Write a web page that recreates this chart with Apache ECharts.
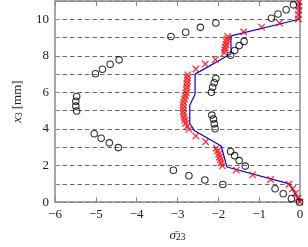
<!DOCTYPE html>
<html><head><meta charset="utf-8">
<script src="https://cdn.jsdelivr.net/npm/echarts@6/dist/echarts.min.js"></script>
<style>html,body{margin:0;padding:0;background:#fff}#c{width:308px;height:247px}</style>
</head><body><div id="c"></div>
<script>
// Experimental points (open circles): [sigma23, x3]
const circleX = [-5.04,-4.87,-4.67,-4.45, -5.47,-5.49,-5.49,-5.47, -5.01,-4.84,-4.65,-4.43,
  -3.16,-2.80,-2.44,-2.06, -0.70,-0.54,-0.34,-0.16, -1.37,-1.49,-1.60,-1.70,
  -2.06,-2.10,-2.14,-2.17, -2.16,-2.12,-2.10,-2.08, -1.70,-1.60,-1.49,-1.34,
  -3.10,-2.72,-2.33,-1.89, -0.61,-0.41,-0.21,-0.01];
const circleY = [3.74,3.49,3.24,2.98, 5.78,5.52,5.25,4.98, 7.02,7.27,7.54,7.78,
  9.06,9.29,9.56,9.80, 10.06,10.29,10.52,10.79, 8.79,8.56,8.29,8.03,
  6.76,6.53,6.28,6.01, 4.76,4.54,4.28,4.01, 2.77,2.54,2.27,1.97,
  1.74,1.44,1.21,0.96, 0.73,0.46,0.20,0.0];
// Red crosses
const crossX = [0,-0.05,-0.11,-0.18,-0.27,-0.72,-1.16,-1.56,
  -1.90,-1.93,-1.95,-1.97,-1.99,-2.02,-2.05,-2.31,-2.55,
  -2.72,-2.76,-2.80,-2.82,-2.84,-2.85,-2.86,-2.86,-2.86,-2.85,-2.83,-2.81,-2.79,-2.78,-2.77,-2.77,-2.76,-2.76,-2.75,
  -2.55,-2.32,-2.07,-1.85,-1.84,-1.83,-1.81,-1.80,-1.78,-1.77,-1.38,-0.94,-0.50,
  -0.04,-0.04,-0.03,-0.03,-0.02];
const crossY = [0,0.22,0.48,0.73,0.98,1.24,1.49,1.75,
  1.98,2.15,2.31,2.47,2.63,2.79,2.95,3.30,3.62,
  3.98,4.14,4.31,4.48,4.64,4.81,4.97,5.14,5.31,5.47,5.64,5.80,5.97,6.14,6.30,6.47,6.63,6.80,6.96,
  7.28,7.55,7.80,8.17,8.32,8.47,8.62,8.77,8.92,9.06,9.30,9.57,9.80,
  10.02,10.25,10.48,10.71,10.94];
// Model (blue line)
const lineX = [0,-0.26,-1.79,-1.93,-2.58,-2.70,-2.70,-2.57,-2.57,-1.69,-1.69,-0.02,-0.02];
const lineY = [0,1.0,1.92,3.07,3.9,4.3,5.3,5.9,7.0,8.12,9.09,10.0,11];
const xTicks = [-6,-5,-4,-3,-2,-1,0];
const yTicks = [0,2,4,6,8,10];

const zip = (a,b) => a.map((v,i)=>[v,b[i]]);
const font = 'Liberation Serif';
const axisCol = '#8a8a8a';
const chart = echarts.init(document.getElementById('c'), null, {renderer:'canvas'});
const xBase = {
  type:'value', min:-6, max:0, interval:1,
  axisLine:{show:true, onZero:false, lineStyle:{color:axisCol, width:1.5}},
  axisTick:{show:true, inside:true, length:5, lineStyle:{color:axisCol, width:1}},
  splitLine:{show:false}
};
const yBase = {
  type:'value', min:0, max:11, interval:1,
  axisLine:{show:true, onZero:false, lineStyle:{color:axisCol, width:1.5}},
  axisTick:{show:true, inside:true, length:5, lineStyle:{color:axisCol, width:1}},
};
chart.setOption({
  animation:false,
  backgroundColor:'#fff',
  grid:{left:48, right:8, top:1, bottom:40},
  xAxis:[
    Object.assign({}, xBase, {position:'bottom',
      axisLabel:{fontFamily:font, fontSize:13, color:'#222', margin:6,
        formatter:v => xTicks.includes(v) ? (v<0 ? '\u2212'+Math.abs(v) : String(v)) : ''},
      name:'{a|σ̄}{b|23}', nameLocation:'middle', nameGap:23,
      nameTextStyle:{fontFamily:font, color:'#222',
        rich:{a:{fontFamily:font, fontSize:13, fontStyle:'italic', color:'#222', lineHeight:15, verticalAlign:'bottom'},
              b:{fontFamily:font, fontSize:9.5, color:'#222', lineHeight:15, verticalAlign:'bottom', padding:[6,0,0,0]}}}
    }),
    Object.assign({}, xBase, {position:'top', axisLabel:{show:false}})
  ],
  yAxis:[
    Object.assign({}, yBase, {position:'left',
      axisLabel:{fontFamily:font, fontSize:13, color:'#222', margin:6,
        formatter:v => yTicks.includes(v) ? String(v) : ''},
      splitLine:{show:true, lineStyle:{color:'#444', width:0.8, type:[4.5,3]}},
      name:'{a|x}{b|3} {c|[mm]}', nameLocation:'middle', nameGap:31, nameRotate:90,
      nameTextStyle:{fontFamily:font, color:'#222',
        rich:{a:{fontFamily:font, fontSize:13, fontStyle:'italic', color:'#222', lineHeight:15, verticalAlign:'bottom'},
              b:{fontFamily:font, fontSize:9.5, color:'#222', lineHeight:15, verticalAlign:'bottom', padding:[6,0,0,0]},
              c:{fontFamily:font, fontSize:13, color:'#222', lineHeight:15, verticalAlign:'bottom'}}}
    }),
    Object.assign({}, yBase, {position:'right', axisLabel:{show:false}, splitLine:{show:false}})
  ],
  series:[
    {type:'line', data:zip(lineX,lineY), showSymbol:false, symbol:'none',
     lineStyle:{color:'#0000ff', width:1.2}, z:2},
    {type:'scatter', data:zip(crossX,crossY), symbol:'path://M0,0L10,10M10,0L0,10', symbolSize:6.5,
     itemStyle:{color:'rgba(0,0,0,0)', borderColor:'#ff0000', borderWidth:1.3}, z:3},
    {type:'scatter', data:zip(circleX,circleY), symbol:'circle', symbolSize:6.5,
     itemStyle:{color:'rgba(0,0,0,0)', borderColor:'#000', borderWidth:1.1}, z:4}
  ]
});
</script></body></html>
